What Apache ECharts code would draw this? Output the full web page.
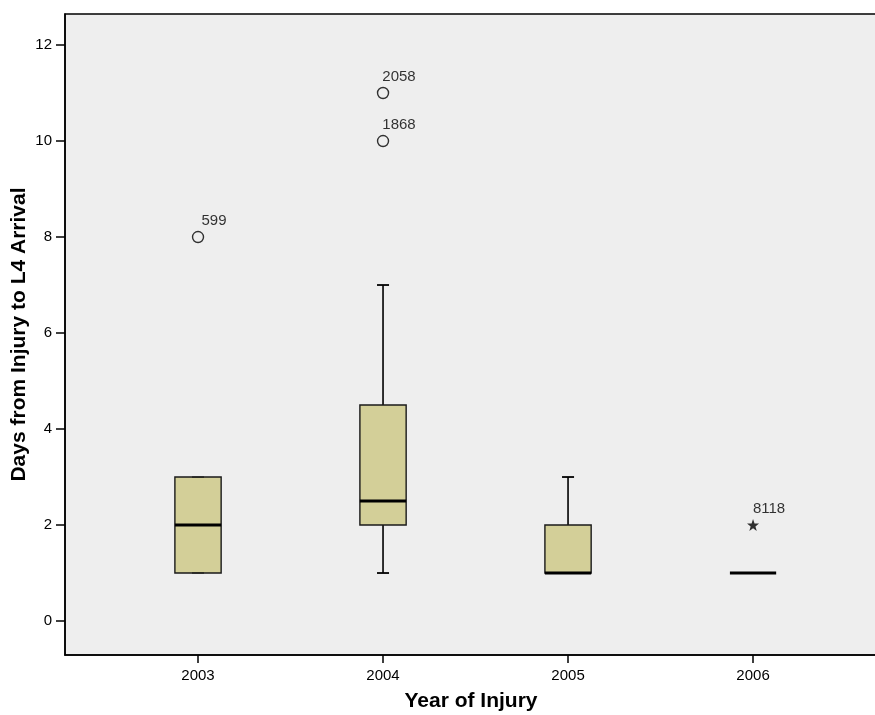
<!DOCTYPE html>
<html>
<head>
<meta charset="utf-8">
<script src="https://cdn.jsdelivr.net/npm/echarts@6/dist/echarts.min.js"></script>
<style>
  html, body { margin: 0; padding: 0; background: #fff; }
  #chart { width: 875px; height: 715px; }
</style>
</head>
<body>
<div id="chart"></div>
<script>
// Year groups and box statistics (days from injury to L4 arrival)
const years = [2003, 2004, 2005, 2006];
const whiskerLow = [1, 1, 1, 1];
const quartile1 = [1, 2, 1, 1];
const medians = [2, 2.5, 1, 1];
const quartile3 = [3, 4.5, 2, 1];
const whiskerHigh = [3, 7, 3, 1];

// Outliers (circles) and extremes (stars) with their case numbers
const outlierYears = [2003, 2004, 2004];
const outlierValues = [8, 10, 11];
const outlierCases = ['599', '1868', '2058'];
const extremeYears = [2006];
const extremeValues = [2];
const extremeCases = ['8118'];

// Axis ticks
const yTicks = [0, 2, 4, 6, 8, 10, 12];

const boxData = years.map((y, i) => [y, whiskerLow[i], quartile1[i], medians[i], quartile3[i], whiskerHigh[i]]);
const outlierData = outlierYears.map((y, i) => ({ value: [y, outlierValues[i]], name: outlierCases[i] }));
const extremeData = extremeYears.map((y, i) => ({ value: [y, extremeValues[i]], name: extremeCases[i] }));

const FONT = 'Liberation Sans, Arial, sans-serif';

function renderBox(params, api) {
  const x = api.value(0);
  const lo = api.coord([x, api.value(1)]);
  const b1 = api.coord([x, api.value(2)]);
  const md = api.coord([x, api.value(3)]);
  const b3 = api.coord([x, api.value(4)]);
  const hi = api.coord([x, api.value(5)]);
  const w = api.size([0.25, 0])[0];
  const cap = api.size([0.065, 0])[0];
  const cx = lo[0];
  const children = [];
  const lineStyle = { stroke: '#000', lineWidth: 1.6 };
  // whiskers
  if (hi[1] < b3[1]) {
    children.push({ type: 'line', shape: { x1: cx, y1: b3[1], x2: cx, y2: hi[1] }, style: lineStyle });
  }
  if (lo[1] > b1[1]) {
    children.push({ type: 'line', shape: { x1: cx, y1: b1[1], x2: cx, y2: lo[1] }, style: lineStyle });
  }
  // box
  if (b1[1] - b3[1] > 0.5) {
    children.push({
      type: 'rect',
      shape: { x: cx - w / 2, y: b3[1], width: w, height: b1[1] - b3[1] },
      style: { fill: '#d3cf98', stroke: '#1a1a1a', lineWidth: 1.4 }
    });
  }
  // whisker caps (drawn faintly when they sit on the box edge)
  children.push({ type: 'line', shape: { x1: cx - cap / 2, y1: hi[1], x2: cx + cap / 2, y2: hi[1] }, style: { stroke: '#000', lineWidth: 1.8, opacity: hi[1] < b3[1] ? 1 : 0.45 } });
  children.push({ type: 'line', shape: { x1: cx - cap / 2, y1: lo[1], x2: cx + cap / 2, y2: lo[1] }, style: { stroke: '#000', lineWidth: 1.8, opacity: lo[1] > b1[1] ? 1 : 0.45 } });
  // median
  children.push({ type: 'line', shape: { x1: cx - w / 2, y1: md[1], x2: cx + w / 2, y2: md[1] }, style: { stroke: '#000', lineWidth: 3 } });
  return { type: 'group', children: children };
}

const chart = echarts.init(document.getElementById('chart'), null, { renderer: 'canvas' });
chart.setOption({
  animation: false,
  backgroundColor: '#ffffff',
  grid: {
    left: 65, top: 14, right: -2, bottom: 60,
    outerBoundsMode: 'none',
    containLabel: false,
    show: true, backgroundColor: '#eeeeee', borderColor: '#000', borderWidth: 1.5
  },
  xAxis: {
    type: 'value',
    min: 2002.281, max: 2006.67,
    name: 'Year of Injury',
    nameLocation: 'middle',
    nameGap: 36,
    nameMoveOverlap: false,
    nameTextStyle: { fontFamily: FONT, fontSize: 21, fontWeight: 'bold', color: '#000' },
    axisLine: { show: true, onZero: false, lineStyle: { color: '#000', width: 1.5 } },
    axisTick: { show: true, length: 8, lineStyle: { color: '#000', width: 1.5 }, customValues: years },
    axisLabel: { fontFamily: FONT, fontSize: 15, color: '#000', margin: 13, customValues: years, formatter: v => String(v) },
    splitLine: { show: false }
  },
  yAxis: {
    type: 'value',
    min: -0.708, max: 12.646,
    name: 'Days from Injury to L4 Arrival',
    nameLocation: 'middle',
    nameGap: 35,
    nameMoveOverlap: false,
    nameTextStyle: { fontFamily: FONT, fontSize: 21, fontWeight: 'bold', color: '#000' },
    axisLine: { show: true, onZero: false, lineStyle: { color: '#000', width: 1.5 } },
    axisTick: { show: true, length: 9, lineStyle: { color: '#000', width: 1.5 }, customValues: yTicks },
    axisLabel: { fontFamily: FONT, fontSize: 15, color: '#000', margin: 13, customValues: yTicks },
    splitLine: { show: false }
  },
  series: [
    {
      type: 'custom',
      renderItem: renderBox,
      data: boxData,
      encode: { x: 0, y: [1, 2, 3, 4, 5] },
      clip: false
    },
    {
      type: 'scatter',
      data: outlierData,
      symbol: 'circle',
      symbolSize: 11,
      itemStyle: { color: 'rgba(0,0,0,0)', borderColor: '#000', borderWidth: 1.4 },
      label: {
        show: true, position: 'inside', offset: [16, -16],
        formatter: p => p.name,
        fontFamily: FONT, fontSize: 15, color: '#000', textBorderWidth: 0
      }
    },
    {
      type: 'scatter',
      data: extremeData,
      symbol: 'path://M0,-10 L2.35,-3.24 L9.51,-3.09 L3.8,1.24 L5.88,8.09 L0,4 L-5.88,8.09 L-3.8,1.24 L-9.51,-3.09 L-2.35,-3.24 Z',
      symbolSize: 12,
      itemStyle: { color: '#000' },
      label: {
        show: true, position: 'inside', offset: [16, -16],
        formatter: p => p.name,
        fontFamily: FONT, fontSize: 15, color: '#000', textBorderWidth: 0
      }
    }
  ]
});
</script>
</body>
</html>
